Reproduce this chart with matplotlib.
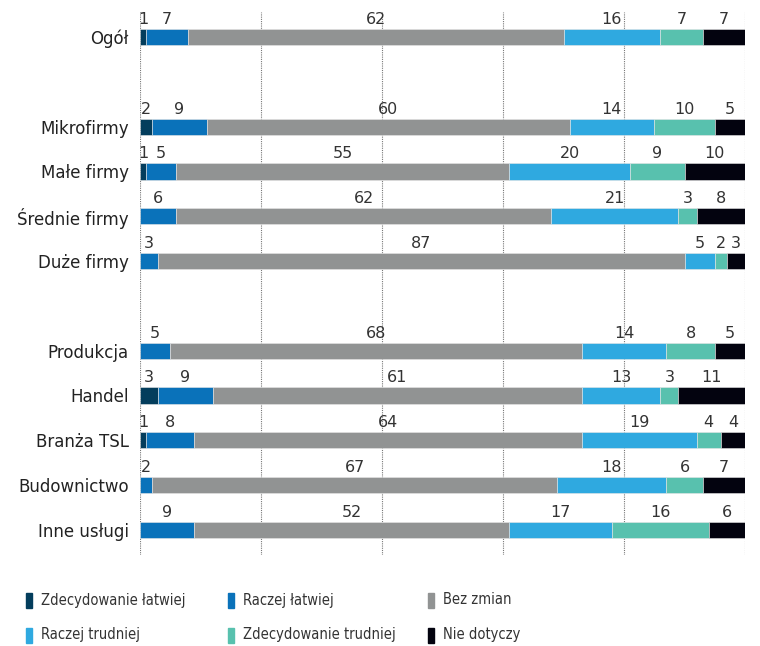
import numpy as np
import matplotlib.pyplot as plt
from matplotlib.patches import Rectangle
from matplotlib import rcParams
rcParams['font.family'] = 'DejaVu Sans'

# data (percent)
categories = ['Ogół', 'Mikrofirmy', 'Małe firmy', 'Średnie firmy', 'Duże firmy',
              'Produkcja', 'Handel', 'Branża TSL', 'Budownictwo', 'Inne usługi']
row_pos = [0, 2, 3, 4, 5, 7, 8, 9, 10, 11]

series_names = ['Zdecydowanie łatwiej', 'Raczej łatwiej', 'Bez zmian',
                'Raczej trudniej', 'Zdecydowanie trudniej', 'Nie dotyczy']
zdec_latwiej = [1, 2, 1, 0, 0, 0, 3, 1, 0, 0]
raczej_latwiej = [7, 9, 5, 6, 3, 5, 9, 8, 2, 9]
bez_zmian = [62, 60, 55, 62, 87, 68, 61, 64, 67, 52]
raczej_trudniej = [16, 14, 20, 21, 5, 14, 13, 19, 18, 17]
zdec_trudniej = [7, 10, 9, 3, 2, 8, 3, 4, 6, 16]
nie_dotyczy = [7, 5, 10, 8, 3, 5, 11, 4, 7, 6]

series = [zdec_latwiej, raczej_latwiej, bez_zmian, raczej_trudniej, zdec_trudniej, nie_dotyczy]
colors = ['#033d5c', '#0a72ba', '#919393', '#2fa9e0', '#58c1ae', '#03030f']

fig = plt.figure(figsize=(7.6, 6.46), dpi=100)
ax = fig.add_axes([0.1842, 0.1409, 0.7961, 0.8405])

# dotted vertical grid
for gx in [0, 20, 40, 60, 80, 100]:
    ax.axvline(gx, color='#777777', ls=(0, (1, 1)), lw=0.8, zorder=0)

h = 0.36
left = np.zeros(len(categories))
for vals, col in zip(series, colors):
    vals = np.array(vals, dtype=float)
    ax.barh(row_pos, vals, left=left, height=h, color=col,
            edgecolor='#e6e6e6', linewidth=0.4, zorder=2)
    for y, l, v in zip(row_pos, left, vals):
        if v > 0:
            ax.annotate(f'{int(v)}', (l + v / 2, y - h / 2), xytext=(0, 1.5),
                        textcoords='offset points', ha='center', va='bottom',
                        fontsize=11.5, color='#333333', zorder=3)
    left += vals

ax.set_xlim(0, 100)
ax.set_ylim(11.56, -0.56)
ax.set_yticks(row_pos)
ax.set_yticklabels(categories, fontsize=12, color='#222222')
ax.set_xticks([])
ax.tick_params(axis='y', length=0, pad=8)
for s in ax.spines.values():
    s.set_visible(False)

# legend drawn by hand
leg_x = [26, 228, 428]
leg_y = [600, 635]
for i, (name, col) in enumerate(zip(series_names, colors)):
    r, c = divmod(i, 3)
    x, y = leg_x[c], leg_y[r]
    fig.patches.append(Rectangle((x / 760, 1 - (y + 8) / 646), 6 / 760, 15 / 646,
                                 transform=fig.transFigure, color=col))
    fig.text((x + 15) / 760, 1 - y / 646, name, fontsize=10.5, color='#333333',
             va='center', ha='left', fontstretch='condensed')

fig.savefig('out.png', dpi=100)
